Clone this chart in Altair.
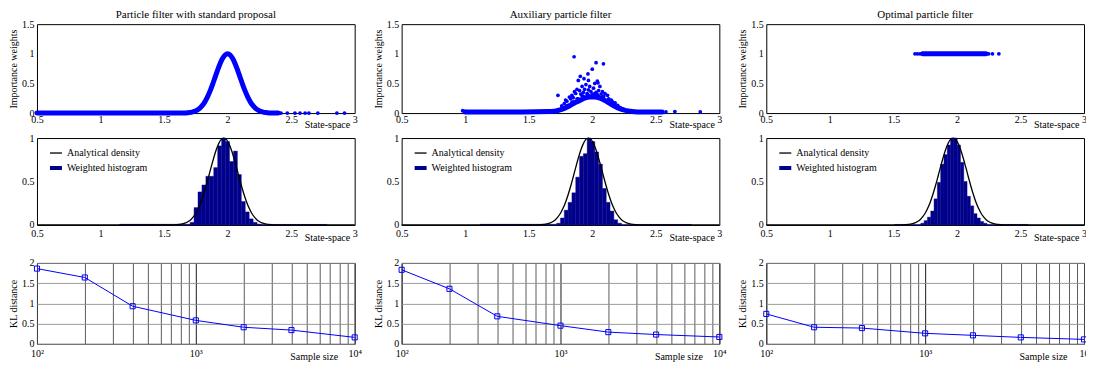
import altair as alt
import pandas as pd

FONT = "Liberation Serif"
BLUE = "#0000ff"
NAVY = "#00008b"

W = 318
GAP = 47
H_TOP, H_MID, H_BOT = 89, 87, 81

col_titles = ["Particle filter with standard proposal", "Auxiliary particle filter", "Optimal particle filter"]
state_ticks = [0.5, 1, 1.5, 2, 2.5, 3]
weight_ticks = [0, 0.5, 1, 1.5]
dens_ticks = [0, 0.5, 1]
kl_ticks = [0, 0.5, 1, 1.5, 2]
sample_ticks = [100, 200, 300, 400, 500, 600, 700, 800, 900, 1000,
                2000, 3000, 4000, 5000, 6000, 7000, 8000, 9000, 10000]
series_names = ["Analytical density", "Weighted histogram"]

# ---------- top row: importance weights ----------
std_x = [0.5, 1.15, 1.64, 1.67, 1.70, 1.72, 1.74, 1.76, 1.78, 1.80, 1.82, 1.84, 1.86, 1.88, 1.90,
         1.92, 1.94, 1.96, 1.98, 2.00, 2.02, 2.04, 2.06, 2.08, 2.10, 2.12, 2.14, 2.16, 2.18, 2.20,
         2.22, 2.24, 2.26, 2.28, 2.30, 2.33, 2.36, 2.40]
std_w = [0.0, 0.0, 0.001, 0.003, 0.009, 0.017, 0.030, 0.050, 0.081, 0.125, 0.185, 0.264, 0.361, 0.473, 0.595,
         0.717, 0.829, 0.920, 0.979, 1.0, 0.979, 0.920, 0.829, 0.717, 0.595, 0.473, 0.361, 0.264, 0.185, 0.125,
         0.081, 0.050, 0.030, 0.017, 0.009, 0.003, 0.001, 0.0]
std_iso_x = [2.42, 2.47, 2.53, 2.57, 2.61, 2.64, 2.71, 2.86, 2.92]
std_iso_w = [0.0, 0.0, 0.0, 0.0, 0.0, 0.0, 0.0, 0.0, 0.0]

aux_band_x = [1.0, 1.2, 1.45, 1.65, 1.70, 1.74, 1.78, 1.82, 1.86, 1.90, 1.94, 1.98, 2.02, 2.06,
              2.10, 2.14, 2.18, 2.22, 2.26, 2.30, 2.36, 2.45, 2.55]
aux_band_w = [0.02, 0.02, 0.02, 0.025, 0.03, 0.05, 0.08, 0.12, 0.17, 0.21, 0.25, 0.27, 0.27, 0.25,
              0.21, 0.16, 0.11, 0.07, 0.045, 0.03, 0.02, 0.02, 0.02]
aux_pts_x = [1.857, 2.03, 2.088, 2.0, 1.906, 1.966, 1.935, 1.89, 1.97, 2.04, 2.02, 2.045, 1.73, 1.95,
             1.92, 1.98, 2.06, 2.01, 1.88, 1.94, 1.86, 1.9, 1.97, 2.05, 2.08, 2.1, 2.12, 1.82, 1.84,
             1.87, 1.93, 1.99, 2.03, 2.07, 1.8, 1.78, 1.76, 2.15, 2.18, 2.2, 2.22, 1.83, 1.91, 1.96,
             2.02, 2.09, 2.13, 1.79, 1.85, 2.16, 1.76, 1.8, 1.84, 1.88, 1.92, 1.96, 2.0, 2.04, 2.08,
             2.12, 2.16, 2.2, 2.24, 1.74, 1.77, 1.81, 1.85, 1.89, 1.93, 1.97, 2.01, 2.05, 2.09, 2.13,
             2.17, 2.21, 2.25, 2.28, 1.72, 0.98, 1.0, 1.07, 1.1, 1.13, 1.16, 2.58, 2.65, 2.85]
aux_pts_w = [0.95, 0.85, 0.83, 0.74, 0.62, 0.66, 0.58, 0.55, 0.55, 0.54, 0.50, 0.51, 0.30, 0.48,
             0.45, 0.45, 0.45, 0.42, 0.40, 0.40, 0.36, 0.38, 0.39, 0.38, 0.36, 0.33, 0.30, 0.27, 0.30,
             0.33, 0.35, 0.36, 0.35, 0.32, 0.20, 0.16, 0.12, 0.22, 0.17, 0.13, 0.09, 0.24, 0.32, 0.33,
             0.33, 0.28, 0.24, 0.22, 0.26, 0.19, 0.07, 0.12, 0.18, 0.24, 0.29, 0.31, 0.32, 0.31, 0.27,
             0.22, 0.16, 0.11, 0.07, 0.05, 0.08, 0.13, 0.19, 0.24, 0.28, 0.30, 0.30, 0.28, 0.24, 0.19,
             0.13, 0.09, 0.06, 0.04, 0.04, 0.04, 0.03, 0.02, 0.02, 0.025, 0.02, 0.02, 0.025, 0.02]

opt_band_x = [1.73, 2.23]
opt_band_w = [1.0, 1.0]
opt_iso_x = [1.67, 1.69, 1.71, 2.25, 2.28, 2.33]
opt_iso_w = [1.0, 1.0, 1.0, 1.0, 1.0, 1.0]

# ---------- middle row: densities ----------
dens_x = [0.5, 1.47, 1.57, 1.62, 1.65, 1.67, 1.69, 1.71, 1.73, 1.75, 1.77, 1.79, 1.81, 1.83, 1.85,
          1.87, 1.89, 1.91, 1.93, 1.95, 1.97, 1.99, 2.01, 2.03, 2.05, 2.07, 2.09, 2.11, 2.13, 2.15,
          2.17, 2.19, 2.21, 2.23, 2.25, 2.27, 2.29, 2.32, 2.37, 2.47, 3.0]
dens_y = [0.0, 0.0, 0.001, 0.006, 0.015, 0.024, 0.039, 0.061, 0.093, 0.135, 0.192, 0.262, 0.347, 0.445,
          0.552, 0.662, 0.768, 0.862, 0.936, 0.984, 1.0, 0.984, 0.936, 0.862, 0.768, 0.662, 0.552,
          0.445, 0.347, 0.262, 0.192, 0.135, 0.093, 0.061, 0.039, 0.024, 0.015, 0.006, 0.001, 0.0, 0.0]

hist_std_edges = [1.705, 1.736, 1.767, 1.798, 1.829, 1.860, 1.891, 1.922, 1.953, 1.984, 2.015, 2.046,
                  2.077, 2.108, 2.139, 2.170, 2.201, 2.232, 2.263]
hist_std_h = [0.03, 0.20, 0.38, 0.46, 0.56, 0.56, 0.66, 0.91, 1.0, 0.96, 0.73, 0.85, 0.58, 0.27,
              0.15, 0.07, 0.03, 0.01]
hist_std_tails = [(1.15, 1.705, 0.008), (2.263, 2.78, 0.006)]

hist_aux_edges = [1.72, 1.75, 1.78, 1.81, 1.84, 1.87, 1.90, 1.93, 1.96, 1.99, 2.02, 2.05, 2.08, 2.11,
                  2.14, 2.17, 2.20, 2.23]
hist_aux_h = [0.02, 0.08, 0.17, 0.26, 0.37, 0.55, 0.79, 0.82, 1.0, 0.96, 0.84, 0.70, 0.42, 0.26,
              0.16, 0.06, 0.02]
hist_aux_tails = [(1.12, 1.72, 0.008), (2.23, 2.78, 0.006)]

hist_opt_edges = [1.716, 1.742, 1.768, 1.794, 1.820, 1.846, 1.872, 1.898, 1.924, 1.950, 1.976, 2.002,
                  2.028, 2.054, 2.080, 2.106, 2.132, 2.158, 2.184, 2.210, 2.236]
hist_opt_h = [0.02, 0.05, 0.09, 0.16, 0.30, 0.49, 0.70, 0.81, 0.92, 1.0, 1.0, 0.92, 0.72, 0.50,
              0.33, 0.22, 0.13, 0.08, 0.04, 0.02]
hist_opt_tails = [(1.51, 1.716, 0.006), (2.236, 2.56, 0.006)]

# ---------- bottom row: KL distance ----------
sample_sizes = [100, 200, 400, 1000, 2000, 4000, 10000]
kl_std = [1.86, 1.64, 0.93, 0.58, 0.41, 0.34, 0.16]
kl_aux = [1.83, 1.36, 0.68, 0.45, 0.29, 0.23, 0.17]
kl_opt = [0.74, 0.41, 0.39, 0.26, 0.21, 0.16, 0.11]
# the right-most label of the last panel is cut at the figure edge in the reference
decade_labels = [["10²", "10³", "10⁴"], ["10²", "10³", "10⁴"], ["10²", "10³", "10"]]


def state_x(label_pad, title_y):
    return alt.X("x:Q", scale=alt.Scale(domain=[0.5, 3], nice=False, zero=False),
                 axis=alt.Axis(values=state_ticks, format="~g", labelFlush=False, labelOverlap=False,
                               ticks=False, domain=False, grid=False, labelPadding=label_pad,
                               title="State-space", titleX=W - 5, titleY=title_y,
                               titleAlign="right", titleBaseline="alphabetic"))


def weight_y():
    return alt.Y("w:Q", scale=alt.Scale(domain=[0, 1.5], nice=False),
                 axis=alt.Axis(values=weight_ticks, format="~g", title="Importance weights",
                               ticks=False, domain=False, grid=False, labelPadding=3, titlePadding=3,
                               labelFlush=False))


def top_panel(line_x, line_w, line_width, pts_x, pts_w, title):
    ldf = pd.DataFrame({"x": line_x, "w": line_w})
    pdf = pd.DataFrame({"x": pts_x, "w": pts_w})
    line = alt.Chart(ldf).mark_line(color=BLUE, strokeWidth=line_width, interpolate="monotone",
                                    strokeCap="round").encode(x=state_x(1, 14), y=weight_y())
    pts = alt.Chart(pdf).mark_circle(color=BLUE, size=14, opacity=1).encode(x=state_x(1, 14), y=weight_y())
    return alt.layer(line, pts).properties(width=W, height=H_TOP,
                                           title=alt.TitleParams(title, offset=-1, frame="group"))


def mid_panel(edges, heights, tails):
    left = list(edges[:-1]) + [t[0] for t in tails]
    right = list(edges[1:]) + [t[1] for t in tails]
    hh = list(heights) + [t[2] for t in tails]
    hdf = pd.DataFrame({"x": left, "x1": right, "w": hh})
    ddf = pd.DataFrame({"x": dens_x, "w": dens_y, "series": series_names[0]})
    yenc = alt.Y("w:Q", scale=alt.Scale(domain=[0, 1], nice=False),
                 axis=alt.Axis(values=dens_ticks, format="~g", title="Importance weights", titleOpacity=0,
                               ticks=False, domain=False, titlePadding=3,
                               grid=False, labelPadding=3, labelFlush=False))
    xenc = state_x(4, 15.5)
    bars = alt.Chart(hdf).mark_bar(color=NAVY, stroke=NAVY, strokeWidth=0.4).encode(
        x=xenc, x2="x1:Q", y=yenc, y2=alt.datum(0))
    leg = alt.Legend(title=None, orient="none", legendX=11, legendY=8, symbolType="stroke",
                     symbolSize=144, labelFont=FONT, labelFontSize=10, labelOffset=3, rowPadding=2,
                     padding=0, labelColor="black")
    line = alt.Chart(ddf).mark_line(interpolate="monotone").encode(
        x=xenc, y=yenc,
        color=alt.Color("series:N", scale=alt.Scale(domain=series_names, range=["black", NAVY]), legend=leg),
        strokeWidth=alt.StrokeWidth("series:N", scale=alt.Scale(domain=series_names, range=[1.3, 4]),
                                    legend=leg))
    return alt.layer(bars, line).properties(width=W, height=H_MID)


def bot_panel(kl, labels):
    df = pd.DataFrame({"n": sample_sizes, "kl": kl})
    expr = ("datum.value == 100 ? '%s' : datum.value == 1000 ? '%s' : datum.value == 10000 ? '%s' : ''"
            % tuple(labels))
    xenc = alt.X("n:Q", scale=alt.Scale(type="log", domain=[100, 10000], nice=False),
                 axis=alt.Axis(values=sample_ticks, labelExpr=expr,
                               labelFlush=False, labelOverlap=False, ticks=False, domain=False,
                               grid=True, gridColor={"condition": {"test": "datum.value == 1000", "value": "#000000"},
                                                     "value": "#4a4a4a"},
                               gridWidth=0.9, gridOpacity=1, labelPadding=5,
                               title="Sample size", titleX=W - 17, titleY=16, titleAlign="right",
                               titleBaseline="alphabetic"))
    yenc = alt.Y("kl:Q", scale=alt.Scale(domain=[0, 2], nice=False),
                 axis=alt.Axis(values=kl_ticks, format="~g", title="KL distance", ticks=False, domain=False,
                               grid=True, gridColor="#909090", gridWidth=0.9, gridOpacity=1,
                               labelPadding=3, titlePadding=3, labelFlush=False))
    return alt.Chart(df).mark_line(
        color=BLUE, strokeWidth=1,
        point=alt.OverlayMarkDef(shape="square", filled=False, size=26, color=BLUE, strokeWidth=1)
    ).encode(x=xenc, y=yenc).properties(width=W, height=H_BOT)


row1 = alt.hconcat(
    top_panel(std_x, std_w, 5, std_iso_x, std_iso_w, col_titles[0]),
    top_panel(aux_band_x, aux_band_w, 5, aux_pts_x, aux_pts_w, col_titles[1]),
    top_panel(opt_band_x, opt_band_w, 5, opt_iso_x, opt_iso_w, col_titles[2]),
    spacing=GAP, bounds="flush")

row2 = alt.hconcat(
    mid_panel(hist_std_edges, hist_std_h, hist_std_tails),
    mid_panel(hist_aux_edges, hist_aux_h, hist_aux_tails),
    mid_panel(hist_opt_edges, hist_opt_h, hist_opt_tails),
    spacing=GAP, bounds="flush"
).resolve_scale(color="independent", strokeWidth="independent").resolve_legend(
    color="independent", strokeWidth="independent")

row3 = alt.hconcat(bot_panel(kl_std, decade_labels[0]), bot_panel(kl_aux, decade_labels[1]),
                   bot_panel(kl_opt, decade_labels[2]), spacing=GAP, bounds="flush")

upper = alt.vconcat(row1, row2, spacing=2).resolve_scale(
    color="independent", strokeWidth="independent").resolve_legend(color="independent", strokeWidth="independent")

chart = alt.vconcat(upper, row3, spacing=14).resolve_scale(
    color="independent", strokeWidth="independent").resolve_legend(color="independent", strokeWidth="independent")

chart = chart.properties(
    padding={"left": 0, "top": 0, "right": -4, "bottom": 0}, background="white"
).configure_view(stroke="black", strokeWidth=1).configure_axis(
    labelFont=FONT, titleFont=FONT, labelFontSize=10, titleFontSize=10, titleFontWeight="normal",
    labelColor="black", titleColor="black"
).configure_title(font=FONT, fontSize=11, fontWeight="normal", color="black")

chart.save("out.html", embed_options={"renderer": "svg", "actions": False})
